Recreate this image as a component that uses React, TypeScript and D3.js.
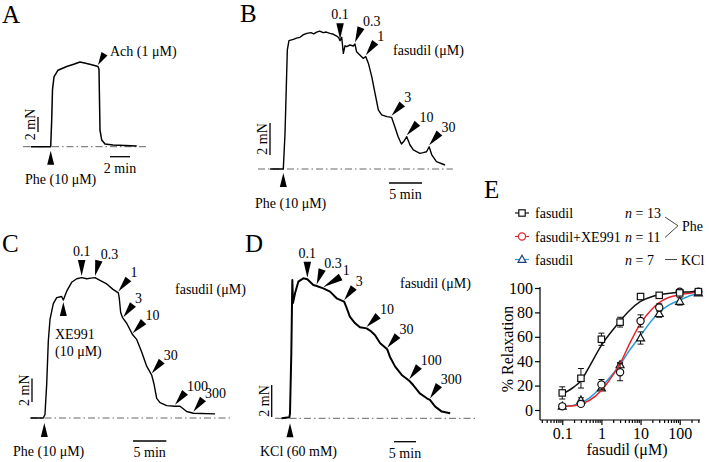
import React, { useEffect, useRef } from 'react';
import * as d3 from 'd3';

type Pt = [number, number];

// isometric tension traces: [time (min), force (mN)], t = 0 at first agonist
const traceA: Pt[] = [[-2.0,0],[0,0],[0.1,3.6],[0.18,7.6],[0.33,9.3],[0.73,10.2],[1.6,10.7],[2.3,11.0],[2.93,11.3],[3.6,11.1],[4.2,10.9],[4.73,10.7],[4.83,10.3],[4.88,6.2],[4.93,2.2],[5.1,0.9],[5.43,0.36],[6.23,0.23],[8.6,0.1]];

const traceB: Pt[] = [[-2.0,0],[0,0],[0.26,2.23],[0.61,7.44],[0.86,8.02],[1.52,8.1],[2.0,8.18],[2.53,8.23],[3.0,8.38],[3.55,8.48],[4.2,8.52],[4.6,8.45],[5.06,8.56],[5.5,8.62],[6.06,8.52],[6.5,8.56],[7.08,8.48],[7.6,8.42],[8.09,8.31],[8.4,8.2],[8.6,8.02],[8.85,8.23],[9.1,7.23],[9.35,7.7],[9.6,7.65],[10.1,7.75],[10.6,7.69],[10.86,7.81],[11.1,7.33],[11.6,7.13],[12.1,6.92],[12.5,7.02],[12.9,6.6],[13.4,5.77],[13.9,4.73],[14.4,3.69],[14.9,3.38],[15.7,3.27],[16.4,3.23],[16.9,2.64],[17.4,2.02],[17.9,1.56],[18.3,1.75],[18.7,2.02],[19.2,1.5],[19.7,1.19],[20.7,0.98],[21.2,1.02],[21.7,1.08],[22.1,1.39],[22.5,0.88],[23.2,0.46],[24.5,0.25]];

const traceC: Pt[] = [[-2.04,0],[-0.15,0],[0.1,0.3],[0.36,2.87],[0.6,6.5],[0.85,8.33],[1.35,9.69],[1.86,10.2],[2.6,10.3],[2.85,10.0],[3.36,10.75],[4.1,11.5],[4.86,11.8],[5.6,11.9],[6.36,11.8],[7.0,11.85],[7.6,11.9],[8.35,11.66],[9.36,11.36],[10.3,10.9],[11.1,10.6],[11.24,10.15],[11.45,8.94],[11.75,8.48],[12.35,8.03],[13.25,7.05],[13.85,6.66],[14.6,5.6],[15.35,4.39],[16.1,3.64],[16.45,2.87],[16.85,1.66],[17.35,1.3],[18.35,1.05],[19.6,1.0],[20.35,1.0],[21.35,0.55],[22.35,0.4],[25.6,0.35]];

const traceD: Pt[] = [[-1.9,0],[-0.15,0.06],[0,0.31],[0.3,4.06],[0.53,8.64],[0.68,7.2],[1.14,7.81],[1.89,8.54],[3.03,8.75],[3.94,8.69],[5.3,8.33],[6.06,8.27],[7.58,8.12],[9.1,7.92],[10.6,7.5],[12.3,7.29],[12.9,6.88],[13.6,6.35],[14.8,5.94],[15.9,5.69],[17.4,5.62],[18.2,5.48],[19.3,5.21],[20.5,4.69],[22.1,4.31],[22.7,3.85],[23.9,3.23],[25.4,2.71],[27.1,2.35],[28,2.08],[29.5,1.56],[31.1,1.25],[31.8,1.15],[33,0.73],[34.5,0.42],[36.4,0.31]];

// drug additions (labels and time, min)
const achTime = 4.73;
const dosesB = ['0.1', '0.3', '1', '3', '10', '30'];
const timesB = [8.6, 10.86, 12.5, 16.4, 18.7, 22.1];
const xe991Time = 2.85;
const dosesC = ['0.1', '0.3', '1', '3', '10', '30', '100', '300'];
const timesC = [5.6, 7.6, 11.1, 11.85, 13.25, 16.1, 19.6, 22.35];
const dosesD = ['0.1', '0.3', '1', '3', '10', '30', '100', '300'];
const timesD = [3.94, 6.06, 7.58, 12.3, 17.4, 22.1, 27.1, 31.8];

// panel E: concentration-response (mean, SEM)
const conc = [0.1, 0.3, 1, 3, 10, 30, 100, 300];
const pheMean = [14, 26, 58, 72, 93, 94, 96, 97];
const pheErr = [5, 8, 5, 4, 1.5, 1, 1, 1];
const xeMean = [3, 5, 21, 31, 73, 84, 97, 97];
const xeErr = [2, 2, 4, 7, 5, 3, 1, 1];
const kclMean = [3, 8, 18, 37, 59, 79, 89, 96];
const kclErr = [1, 2, 2, 2, 5, 3, 3, 1];

// fitted curves
const fitConc = [0.1, 0.2, 0.3, 0.5, 1, 2, 3, 5, 10, 20, 30, 50, 100, 200, 300];
const pheFit = [13, 19, 24, 36, 53, 66, 73, 81, 89, 93, 94.5, 95.5, 96.5, 97, 97.5];
const xeFit = [3, 3.5, 5, 8, 16, 29, 38, 53, 71, 83, 88, 92, 94.5, 96, 96.5];
const kclFit = [3, 4, 6, 10, 19, 30, 37, 48, 61, 74, 80, 85.5, 90, 94, 95.5];

const yTicks = [0, 20, 40, 60, 80, 100];
const xMajor = [0.1, 1, 10, 100];

const SERIF = "'Liberation Serif', 'Times New Roman', serif";
const RED = '#e3262c';
const BLUE = '#2b9cd8';

const layouts = {
  A: { x0: 50.7, pxMin: 10, y0: 146.7, pxMN: 7.5, t0: -2.77, t1: 9.73 },
  B: { x0: 283.3, pxMin: 6.6, y0: 169, pxMN: 16, t0: -3.83, t1: 25.7 },
  C: { x0: 44.3, pxMin: 6.67, y0: 418, pxMN: 11.8, t0: -2.14, t1: 28.1 },
  D: { x0: 290, pxMin: 4.4, y0: 418.3, pxMN: 16, t0: -3.4, t1: 42.5 },
};

// arrowhead tilt (deg from vertical) and length for each addition
const tiltB = [0, 22, 36, 42, 42, 40];
const tiltC = [0, 14, 39, 37, 43, 39, 39, 37];
const tiltD = [0, 20, 60, 37, 46, 40, 37, 34];
const lenD = [16, 16, 20, 16, 16, 16, 16, 16];

type Layout = typeof layouts.A;

function scalesFor(l: Layout) {
  const x = d3.scaleLinear().domain([0, 1]).range([l.x0, l.x0 + l.pxMin]);
  const y = d3.scaleLinear().domain([0, 1]).range([l.y0, l.y0 - l.pxMN]);
  return { x, y };
}

function forceAt(trace: Pt[], t: number) {
  const i = d3.bisector((d: Pt) => d[0]).left(trace, t);
  if (i <= 0) return trace[0][1];
  if (i >= trace.length) return trace[trace.length - 1][1];
  const [t0, f0] = trace[i - 1];
  const [t1, f1] = trace[i];
  return f0 + ((t - t0) / (t1 - t0)) * (f1 - f0);
}

function head(tx: number, ty: number, angle: number, up = false, L = 16, W = 7.5) {
  const a = (angle * Math.PI) / 180;
  let bx: number, by: number, ux: number, uy: number;
  if (up) {
    bx = tx; by = ty + L; ux = 1; uy = 0;
  } else {
    bx = tx + L * Math.sin(a); by = ty - L * Math.cos(a);
    ux = Math.cos(a); uy = Math.sin(a);
  }
  const pts = [[tx, ty], [bx + (W / 2) * ux, by + (W / 2) * uy], [bx - (W / 2) * ux, by - (W / 2) * uy]];
  return { d: 'M' + pts.map(p => p.join(',')).join('L') + 'Z', bx, by };
}

function DoseArrows({ trace, l, labels, times, tilts, lens }: { trace: Pt[]; l: Layout; labels: string[]; times: number[]; tilts: number[]; lens?: number[] }) {
  const { x, y } = scalesFor(l);
  return (
    <g>
      {labels.map((lab, i) => {
        const tx = x(times[i]);
        const ty = y(forceAt(trace, times[i])) - 1.5;
        const h = head(tx, ty, tilts[i], false, lens ? lens[i] : 16);
        return (
          <g key={lab + i}>
            <path d={h.d} fill="#000" />
            {tilts[i] === 0 ? (
              <text x={tx} y={h.by - 4} textAnchor="middle">{lab}</text>
            ) : (
              <text x={h.bx + 2} y={h.by - 1.5}>{lab}</text>
            )}
          </g>
        );
      })}
    </g>
  );
}

function Trace({ trace, l, width = 1.4 }: { trace: Pt[]; l: Layout; width?: number }) {
  const { x, y } = scalesFor(l);
  const line = d3.line<Pt>().x(d => x(d[0])).y(d => y(d[1]));
  return (
    <g>
      <line x1={x(l.t0)} x2={x(l.t1)} y1={l.y0} y2={l.y0} stroke="#666" strokeWidth={1} strokeDasharray="7,3,1.5,3" />
      <path d={line(trace) || ''} fill="none" stroke="#000" strokeWidth={width} strokeLinejoin="round" />
    </g>
  );
}

function ScaleBars({ l, vx, vBottom, hx, hy, mins }: { l: Layout; vx: number; vBottom: number; hx: number; hy: number; mins: number }) {
  const vLen = 2 * l.pxMN;
  const hLen = mins * l.pxMin;
  return (
    <g>
      <line x1={vx} x2={vx} y1={vBottom} y2={vBottom - vLen} stroke="#000" strokeWidth={1.3} />
      <text transform={`translate(${vx - 3},${vBottom - vLen / 2}) rotate(-90)`} textAnchor="middle">2 mN</text>
      <line x1={hx} x2={hx + hLen} y1={hy} y2={hy} stroke="#000" strokeWidth={1.3} />
      <text x={hx + hLen / 2} y={hy + 16} textAnchor="middle">{mins} min</text>
    </g>
  );
}

function UpArrow({ x, y, label, lx, ly }: { x: number; y: number; label: string; lx: number; ly: number }) {
  const h = head(x, y, 0, true, 14, 7);
  return (
    <g>
      <path d={h.d} fill="#000" />
      <text x={lx} y={ly}>{label}</text>
    </g>
  );
}

// panel E geometry
const EX0 = 540, EX1 = 700, EYBOT = 420;
const ex = d3.scaleLog().domain([0.027, 330]).range([EX0, EX1]);
const ey = d3.scaleLinear().domain([0, 100]).range([410, 288]);

function Square({ cx, cy, c = '#111' }: { cx: number; cy: number; c?: string }) {
  return <rect x={cx - 3.2} y={cy - 3.2} width={6.4} height={6.4} fill="#fff" stroke={c} strokeWidth={1.2} />;
}
function Circle({ cx, cy, c = '#111' }: { cx: number; cy: number; c?: string }) {
  return <circle cx={cx} cy={cy} r={3.6} fill="#fff" stroke={c} strokeWidth={1.2} />;
}
function Tri({ cx, cy, c = '#111' }: { cx: number; cy: number; c?: string }) {
  return <path d={`M${cx},${cy - 4.2}L${cx + 4},${cy + 2.9}L${cx - 4},${cy + 2.9}Z`} fill="#fff" stroke={c} strokeWidth={1.2} />;
}

function Series({ mean, err, fit, color, Marker }: { mean: number[]; err: number[]; fit: number[]; color: string; Marker: any }) {
  const line = d3.line<number>().x((_, i) => ex(fitConc[i])).y(d => ey(d)).curve(d3.curveMonotoneX);
  return (
    <g>
      <path d={line(fit) || ''} fill="none" stroke={color} strokeWidth={1.5} />
      {mean.map((m, i) => {
        const cx = ex(conc[i]);
        return (
          <g key={i} stroke="#111" strokeWidth={1}>
            <line x1={cx} x2={cx} y1={ey(m - err[i])} y2={ey(m + err[i])} />
            <line x1={cx - 3} x2={cx + 3} y1={ey(m - err[i])} y2={ey(m - err[i])} />
            <line x1={cx - 3} x2={cx + 3} y1={ey(m + err[i])} y2={ey(m + err[i])} />
          </g>
        );
      })}
      {mean.map((m, i) => <Marker key={'m' + i} cx={ex(conc[i])} cy={ey(m)} />)}
    </g>
  );
}

function PanelE() {
  const axRef = useRef<SVGGElement>(null);
  useEffect(() => {
    const g = d3.select(axRef.current);
    g.selectAll('*').remove();
    const yAxis = d3.axisLeft(ey).tickValues(yTicks).tickSize(5).tickSizeOuter(0).tickPadding(2);
    const gy = g.append('g').attr('transform', `translate(${EX0},0)`).call(yAxis);
    gy.select('.domain').remove();
    const minor = ex.ticks().filter(v => !xMajor.some(m => Math.abs(m - v) < 1e-9));
    const gxMinor = g.append('g').attr('transform', `translate(0,${EYBOT})`)
      .call(d3.axisBottom(ex).tickValues(minor).tickSize(3).tickSizeOuter(0).tickFormat(() => ''));
    gxMinor.select('.domain').remove();
    const gx = g.append('g').attr('transform', `translate(0,${EYBOT})`)
      .call(d3.axisBottom(ex).tickValues(xMajor).tickSize(5).tickSizeOuter(0).tickPadding(3).tickFormat(d => String(d)));
    gx.select('.domain').remove();
    g.selectAll('text').attr('font-family', SERIF).attr('font-size', 16).attr('fill', '#000');
    g.selectAll('g').attr('font-family', SERIF).attr('font-size', 16);
    g.selectAll('.tick line').attr('stroke', '#000').attr('stroke-width', 1.2);
    g.append('line').attr('x1', EX0).attr('x2', EX0).attr('y1', 287).attr('y2', EYBOT).attr('stroke', '#000').attr('stroke-width', 1.2);
    g.append('line').attr('x1', EX0).attr('x2', EX1).attr('y1', EYBOT).attr('y2', EYBOT).attr('stroke', '#000').attr('stroke-width', 1.2);
  }, []);

  const rows = [213, 236.5, 259.5];
  return (
    <g>
      <text x={484} y={198} fontSize={25}>E</text>
      {/* legend */}
      <g fontSize={14}>
        <line x1={515} x2={529} y1={rows[0]} y2={rows[0]} stroke="#111" strokeWidth={1.2} />
        <Square cx={522} cy={rows[0]} />
        <text x={535} y={rows[0] + 5}>fasudil</text>
        <text x={625} y={rows[0] + 5}><tspan fontStyle="italic">n</tspan> = 13</text>
        <line x1={515} x2={529} y1={rows[1]} y2={rows[1]} stroke={RED} strokeWidth={1.2} />
        <Circle cx={522} cy={rows[1]} c={RED} />
        <text x={535} y={rows[1] + 5}>fasudil+XE991</text>
        <text x={625} y={rows[1] + 5}><tspan fontStyle="italic">n</tspan> = 11</text>
        <line x1={515} x2={529} y1={rows[2]} y2={rows[2]} stroke={BLUE} strokeWidth={1.2} />
        <Tri cx={522} cy={rows[2]} c="#1d3f7a" />
        <text x={535} y={rows[2] + 5}>fasudil</text>
        <text x={625} y={rows[2] + 5}><tspan fontStyle="italic">n</tspan> = 7</text>
        <path d={`M665,${rows[0] + 4}L678,${(rows[0] + rows[1]) / 2 + 1}L665,${rows[1] + 1}`} fill="none" stroke="#333" strokeWidth={0.9} />
        <text x={682} y={(rows[0] + rows[1]) / 2 + 6}>Phe</text>
        <line x1={665} x2={677} y1={rows[2]} y2={rows[2]} stroke="#333" strokeWidth={0.9} />
        <text x={681} y={rows[2] + 5}>KCl</text>
      </g>
      <Series mean={kclMean} err={kclErr} fit={kclFit} color={BLUE} Marker={Tri} />
      <Series mean={xeMean} err={xeErr} fit={xeFit} color={RED} Marker={Circle} />
      <Series mean={pheMean} err={pheErr} fit={pheFit} color="#111" Marker={Square} />
      <g ref={axRef} />
      <text transform="translate(513,349) rotate(-90)" textAnchor="middle" fontSize={16}>% Relaxation</text>
      <text x={627} y={455} textAnchor="middle" fontSize={16}>fasudil (μM)</text>
    </g>
  );
}

export default function App() {
  const sA = scalesFor(layouts.A);
  const sC = scalesFor(layouts.C);
  const ach = head(sA.x(achTime), sA.y(forceAt(traceA, achTime)) - 1.5, 30, false, 13, 7);
  const xeX = sC.x(xe991Time);
  const xeY = sC.y(forceAt(traceC, xe991Time)) + 2;
  return (
    <svg width={709} height={462} style={{ position: 'absolute', left: 0, top: 0, background: '#fff' }}
      fontFamily={SERIF} fontSize={14}>
      <rect width={709} height={462} fill="#fff" />
      {/* A */}
      <text x={2} y={23} fontSize={25}>A</text>
      <Trace trace={traceA} l={layouts.A} width={1.5} />
      <path d={ach.d} fill="#000" />
      <text x={110} y={56}>Ach (1 μM)</text>
      <UpArrow x={layouts.A.x0} y={layouts.A.y0 + 4} label="Phe (10 μM)" lx={25} ly={184} />
      <ScaleBars l={layouts.A} vx={38} vBottom={132} hx={110} hy={156.7} mins={2} />

      {/* B */}
      <text x={240} y={22} fontSize={25}>B</text>
      <Trace trace={traceB} l={layouts.B} width={1.4} />
      <DoseArrows trace={traceB} l={layouts.B} labels={dosesB} times={timesB} tilts={tiltB} />
      <text x={393} y={55}>fasudil (μM)</text>
      <UpArrow x={layouts.B.x0} y={layouts.B.y0 + 4} label="Phe (10 μM)" lx={255} ly={208} />
      <ScaleBars l={layouts.B} vx={270} vBottom={155} hx={389} hy={183} mins={5} />

      {/* C */}
      <text x={2} y={252} fontSize={25}>C</text>
      <Trace trace={traceC} l={layouts.C} width={1.4} />
      <DoseArrows trace={traceC} l={layouts.C} labels={dosesC} times={timesC} tilts={tiltC} />
      <UpArrow x={xeX} y={xeY} label="XE991" lx={55} ly={339} />
      <text x={55} y={356}>(10 μM)</text>
      <text x={175} y={294}>fasudil (μM)</text>
      <UpArrow x={layouts.C.x0} y={layouts.C.y0 + 5} label="Phe (10 μM)" lx={13} ly={456} />
      <ScaleBars l={layouts.C} vx={32} vBottom={402} hx={133} hy={441} mins={5} />

      {/* D */}
      <text x={245} y={252} fontSize={25}>D</text>
      <Trace trace={traceD} l={layouts.D} width={2} />
      <DoseArrows trace={traceD} l={layouts.D} labels={dosesD} times={timesD} tilts={tiltD} lens={lenD} />
      <text x={400} y={288}>fasudil (μM)</text>
      <UpArrow x={layouts.D.x0} y={layouts.D.y0 + 5} label="KCl (60 mM)" lx={260} ly={456} />
      <ScaleBars l={layouts.D} vx={271.7} vBottom={417} hx={394} hy={441.7} mins={5} />

      <PanelE />
    </svg>
  );
}
